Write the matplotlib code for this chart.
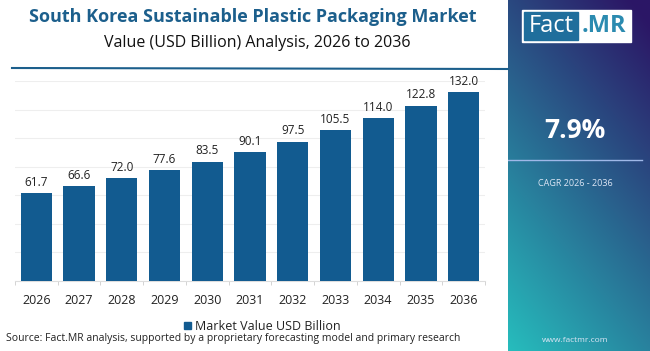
import numpy as np
import matplotlib.pyplot as plt
from matplotlib.patches import Rectangle

years = ['2026', '2027', '2028', '2029', '2030', '2031', '2032', '2033', '2034', '2035', '2036']
values = [61.7, 66.6, 72.0, 77.6, 83.5, 90.1, 97.5, 105.5, 114.0, 122.8, 132.0]
cagr = '7.9%'
cagr_label = 'CAGR 2026 - 2036'

plt.rcParams['font.family'] = ['Open Sans', 'DejaVu Sans']

W, H = 650, 351
fig = plt.figure(figsize=(6.5, 3.51), dpi=100)
fig.patch.set_facecolor('white')

bar_color = '#125b90'
title_color = '#1c5f8c'

# main bar chart
ax = fig.add_axes([15 / W, (H - 281) / H, 470 / W, 200 / H])
x = np.arange(len(years))
bars = ax.bar(x, values, width=0.73, color=bar_color, zorder=3)
for xi, v in zip(x, values):
    ax.text(xi, v + 3, f'{v:.1f}', ha='center', va='bottom', fontsize=8.5, color='#222222')
ax.set_xlim(-0.5, len(years) - 0.5)
ax.set_ylim(0, 140)
ax.set_yticks(np.arange(0, 141, 20))
ax.yaxis.grid(True, color='#eeeeee', linewidth=0.8, zorder=0)
ax.set_yticklabels([])
ax.tick_params(axis='y', length=0)
ax.set_xticks(x)
ax.set_xticklabels(years, fontsize=9, color='#222222')
ax.tick_params(axis='x', length=0, pad=9)
ax.set_xticks(np.arange(-0.5, len(years), 1), minor=True)
ax.tick_params(axis='x', which='minor', length=3, color='#cccccc')
for s in ['top', 'right', 'left']:
    ax.spines[s].set_visible(False)
ax.spines['bottom'].set_color('#dddddd')

# titles
fig.text(253 / W, 1 - 17 / H, 'South Korea Sustainable Plastic Packaging Market', ha='center', va='center',
         fontsize=13, fontweight='bold', color=title_color)
fig.text(257 / W, 1 - 43 / H, 'Value (USD Billion) Analysis, 2026 to 2036', ha='center', va='center',
         fontsize=11.5, color='#111111')
fig.add_artist(plt.Line2D([12 / W, 508 / W], [1 - 68 / H, 1 - 69 / H], color='#1c5f8c', linewidth=1.5))

# legend and source
fig.add_artist(Rectangle((184 / W, 1 - 329 / H), 7 / W, 7 / H, color=bar_color, transform=fig.transFigure))
fig.text(195 / W, 1 - 326 / H, 'Market Value USD Billion', ha='left', va='center', fontsize=9, color='#222222')
fig.text(6 / W, 1 - 339 / H, 'Source: Fact.MR analysis, supported by a proprietary forecasting model and primary research',
         ha='left', va='center', fontsize=7.5, color='#222222')

# right side panel with gradient
pan = fig.add_axes([508 / W, 0, 142 / W, 1])
gx, gy = np.meshgrid(np.linspace(0, 1, 100), np.linspace(0, 1, 200))
t = np.clip(0.7 * gy + 0.35 * (1 - gx) - 0.05, 0, 1)
top = np.array([0.17, 0.09, 0.40])
bot = np.array([0.15, 0.74, 0.74])
img = top[None, None, :] * (1 - t[..., None]) + bot[None, None, :] * t[..., None]
pan.imshow(img, aspect='auto', extent=[0, 1, 1, 0])
pan.set_xlim(0, 1)
pan.set_ylim(1, 0)
pan.axis('off')

def px(xp):
    return (xp - 508) / 142

pan.add_patch(Rectangle((px(522), 10 / H), px(631) - px(522), 32 / H, color='white'))
pan.add_patch(Rectangle((px(524), 12 / H), px(578) - px(524), 28 / H, color='#1f6e9c'))
pan.text(px(551), 26 / H, 'Fact', ha='center', va='center', fontsize=17, color='white')
pan.text(px(604), 26 / H, '.MR', ha='center', va='center', fontsize=17, color='#2b8bb0', fontweight='bold')
pan.text(px(575), 131 / H, cagr, ha='center', va='center', fontsize=19, color='white', fontweight='bold')
pan.plot([px(508), px(642)], [160 / H, 160 / H], color='#9fb8e8', linewidth=1)
pan.text(px(575), 183 / H, cagr_label, ha='center', va='center', fontsize=6.5, color='#dde6f5')
pan.text(px(575), 340 / H, 'www.factmr.com', ha='center', va='center', fontsize=6, color='#dde6f5')

fig.savefig('out.png', dpi=100)
